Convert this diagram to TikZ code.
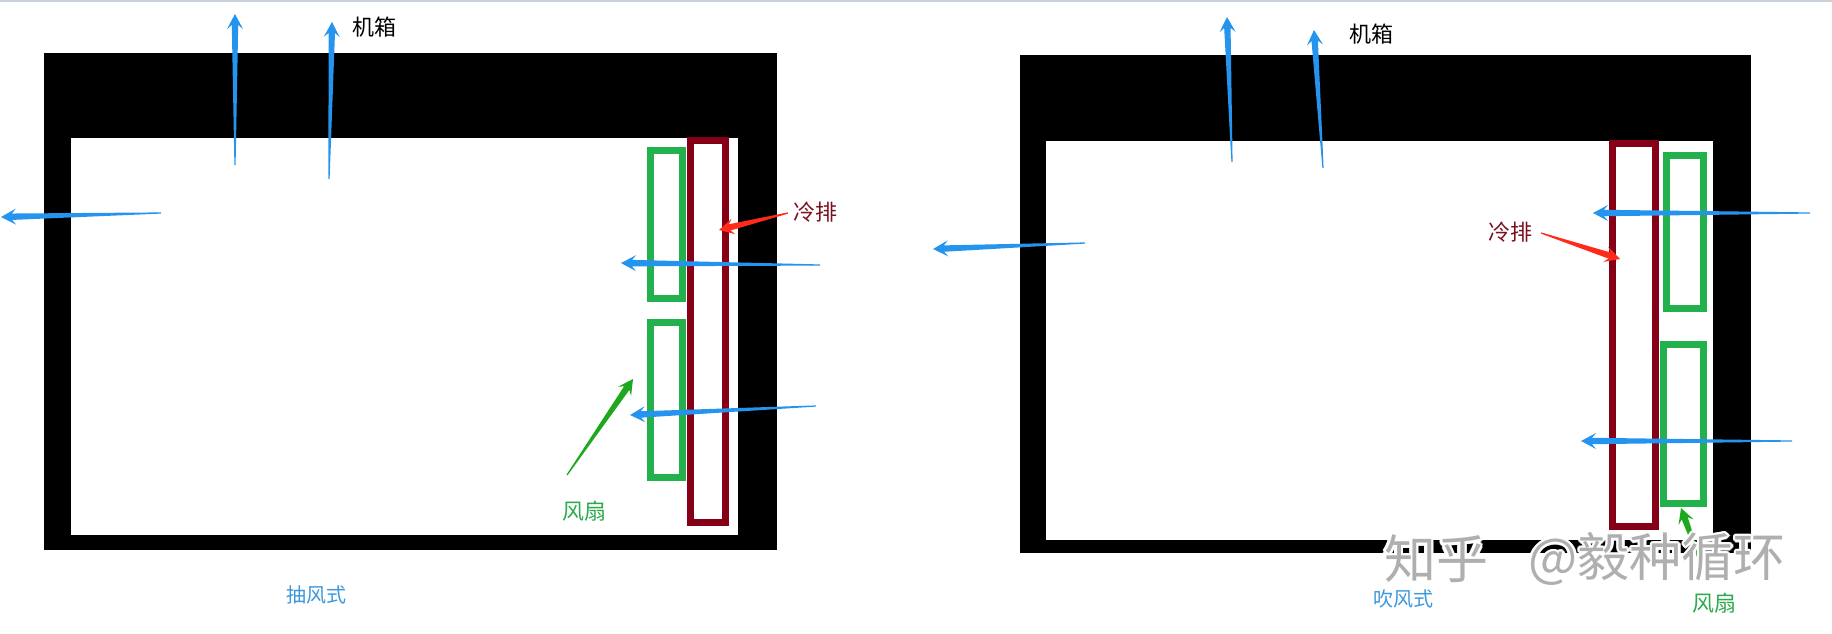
\documentclass[tikz,border=0pt]{standalone}
\usepackage{fontspec}
\setmainfont{Noto Sans CJK SC}
\usetikzlibrary{calc}
\definecolor{abl}{HTML}{2594EE}
\definecolor{ared}{HTML}{FF2A18}
\definecolor{agrn}{HTML}{1EA81E}
\definecolor{plate}{HTML}{850017}
\definecolor{fan}{HTML}{22B14C}
\definecolor{lblred}{HTML}{7A1020}
\definecolor{lblgrn}{HTML}{2DAA4E}
\definecolor{lblblu}{HTML}{3C98DC}
\definecolor{topline}{HTML}{C9D2DB}
\definecolor{wm}{HTML}{A9A9A9}
\newcommand\tarrow[3]{%
  \path ($(#3)!11pt!(#2)$) coordinate (tmpn) ($(#3)!15pt!(#2)$) coordinate (tmpb);
  \fill[#1] ($(#2)!0.6pt!90:(#3)$) -- ($(tmpn)!3.2pt!-90:(#2)$) -- ($(tmpb)!8pt!-90:(#2)$) -- (#3)
    -- ($(tmpb)!8pt!90:(#2)$) -- ($(tmpn)!3.2pt!90:(#2)$) -- ($(#2)!0.6pt!-90:(#3)$) -- cycle;}
\tikzset{
  lbl/.style={inner sep=0pt, font=\fontsize{22}{22}\selectfont},
  captxt/.style={inner sep=0pt, text=lblblu, font=\fontsize{20}{20}\selectfont},
  platebox/.style={draw=plate, line width=7pt},
  fanbox/.style={draw=fan, line width=7pt},
  wmk/.style={inner sep=0pt, font=\fontsize{52}{52}\selectfont}
}
\begin{document}
\begin{tikzpicture}[x=1pt,y=-1pt]
\useasboundingbox (0,0) rectangle (1832,634);
\fill[white] (0,0) rectangle (1832,634);
\fill[topline] (0,0) rectangle (1832,2.5);
% ---------- left: 抽风式 ----------
\fill[black] (44,53) rectangle (777,550);
\fill[white] (71,138) rectangle (738,535);
\draw[platebox] (690.5,140.5) rectangle (725.5,522.5);
\draw[fanbox] (650.5,150.5) rectangle (682.5,298.5);
\draw[fanbox] (650.5,322.5) rectangle (682.5,477.5);
\coordinate (l1t) at (235,165); \coordinate (l1h) at (235,14);
\coordinate (l2t) at (329,179); \coordinate (l2h) at (332,22);
\coordinate (l3t) at (161,213); \coordinate (l3h) at (1,217);
\coordinate (l4t) at (820,265); \coordinate (l4h) at (621,263);
\coordinate (l5t) at (816,406); \coordinate (l5h) at (630,415);
\coordinate (lrt) at (788,213); \coordinate (lrh) at (719,230);
\coordinate (lgt) at (567,475); \coordinate (lgh) at (633,379);
\tarrow{abl}{l1t}{l1h}
\tarrow{abl}{l2t}{l2h}
\tarrow{abl}{l3t}{l3h}
\tarrow{abl}{l4t}{l4h}
\tarrow{abl}{l5t}{l5h}
\tarrow{ared}{lrt}{lrh}
\tarrow{agrn}{lgt}{lgh}
\node[lbl] (lcase) at (374,27) {机箱};
\node[lbl, text=lblred] (lplate) at (815,212) {冷排};
\node[lbl, text=lblgrn] (lfan) at (584,511) {风扇};
\node[captxt] (lcap) at (316,595) {抽风式};
% ---------- right: 吹风式 ----------
\fill[black] (1020,55) rectangle (1751,553);
\fill[white] (1046,141) rectangle (1713,540);
\draw[platebox] (1612.5,143.5) rectangle (1655.5,526.5);
\draw[fanbox] (1666.5,155.5) rectangle (1703.5,308.5);
\draw[fanbox] (1663.5,344.5) rectangle (1703.5,503.5);
\coordinate (r1t) at (1232,162); \coordinate (r1h) at (1227,17);
\coordinate (r2t) at (1323,168); \coordinate (r2h) at (1314,30);
\coordinate (r3t) at (1085,243); \coordinate (r3h) at (933,249);
\coordinate (r4t) at (1810,213); \coordinate (r4h) at (1593,213);
\coordinate (r5t) at (1792,441); \coordinate (r5h) at (1581,441);
\coordinate (rrt) at (1541,233); \coordinate (rrh) at (1620,259);
\coordinate (rgt) at (1707,580); \coordinate (rgh) at (1681,508);
\tarrow{abl}{r1t}{r1h}
\tarrow{abl}{r2t}{r2h}
\tarrow{abl}{r3t}{r3h}
\tarrow{abl}{r4t}{r4h}
\tarrow{abl}{r5t}{r5h}
\tarrow{ared}{rrt}{rrh}
\tarrow{agrn}{rgt}{rgh}
\node[lbl] (rcase) at (1371,34) {机箱};
\node[lbl, text=lblred] (rplate) at (1510,232) {冷排};
\node[lbl, text=lblgrn] (rfan) at (1714,603) {风扇};
\node[captxt] (rcap) at (1403,599) {吹风式};
% ---------- watermark ----------
\coordinate (wa) at (1436,559);
\coordinate (wb) at (1657,559);
\begin{scope}[opacity=0.92]
\foreach \a in {0,30,...,330} {
  \node[wmk, text=white] (wha\a) at ($(wa)+(\a:2.6)$) {知乎};
  \node[wmk, text=white] (whb\a) at ($(wb)+(\a:2.6)$) {@毅种循环};
}
\node[wmk, text=wm] (wma) at (wa) {知乎};
\node[wmk, text=wm] (wmb) at (wb) {@毅种循环};
\end{scope}
\end{tikzpicture}
\end{document}
